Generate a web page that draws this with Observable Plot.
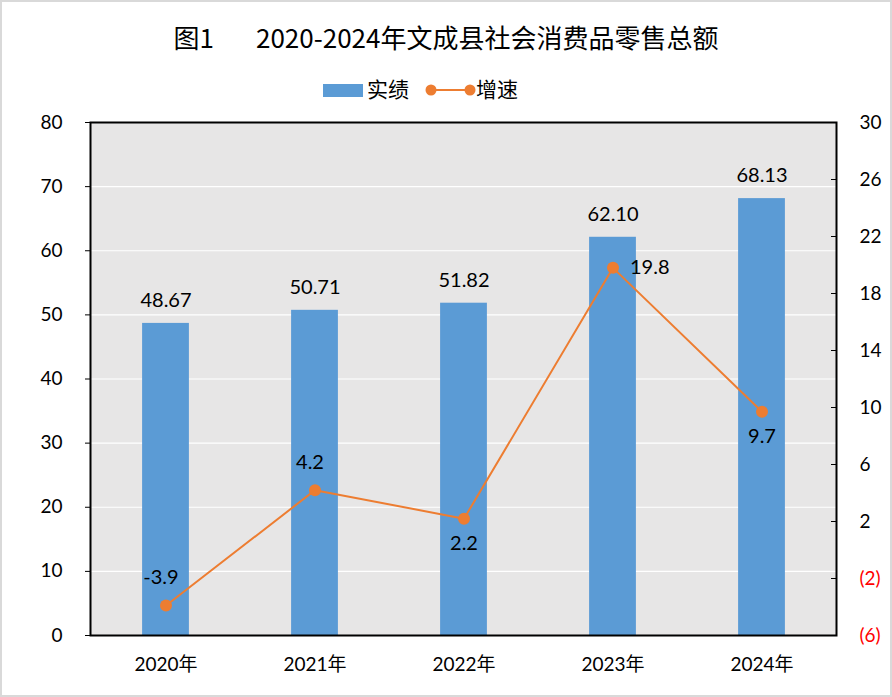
<!DOCTYPE html>
<html>
<head>
<meta charset="utf-8">
<script src="https://cdn.jsdelivr.net/npm/d3@7"></script>
<script src="https://cdn.jsdelivr.net/npm/@observablehq/plot@0.6"></script>
<style>
  html, body { margin: 0; padding: 0; background: #fff; }
  #wrap { position: relative; width: 892px; height: 697px; overflow: hidden; background: #fff; }
  #border { position: absolute; left: 0; top: 0; width: 892px; height: 697px; box-sizing: border-box; border: 2px solid #d9d9d9; pointer-events: none; }
  #title { position: absolute; left: 0; top: 18px; width: 892px; text-align: center; font-family: "Noto Sans CJK SC", sans-serif; font-size: 26px; font-weight: 400; line-height: 38px; color: #000; white-space: pre; }
  .lg { position: absolute; font-family: "Noto Sans CJK SC", sans-serif; font-size: 21px; line-height: 28px; color: #000; }
  #chart { position: absolute; left: 0; top: 100px; }
</style>
</head>
<body>
<div id="wrap">
  <div id="title"></div>
  <svg class="lgsw" style="position:absolute;left:0;top:75px" width="892" height="30">
    <rect x="323" y="9" width="40" height="13" fill="#5b9bd5"></rect>
    <line x1="431" y1="15" x2="470" y2="15" stroke="#ed7d31" stroke-width="2"></line>
    <circle cx="431" cy="15" r="5.5" fill="#ed7d31"></circle>
    <circle cx="470" cy="15" r="5.5" fill="#ed7d31"></circle>
  </svg>
  <div class="lg" id="lg1" style="left:367px;top:74px"></div>
  <div class="lg" id="lg2" style="left:476px;top:74px"></div>
  <div id="chart"></div>
  <div id="border"></div>
</div>
<script>
const titleText = "图1";
const titleMain = "2020-2024年文成县社会消费品零售总额";
const seriesNames = ["实绩", "增速"];
const years = ["2020年", "2021年", "2022年", "2023年", "2024年"];
const sales = [48.67, 50.71, 51.82, 62.10, 68.13];
const growth = [-3.9, 4.2, 2.2, 19.8, 9.7];
const leftTicks = [0, 10, 20, 30, 40, 50, 60, 70, 80];
const rightTicks = [-6, -2, 2, 6, 10, 14, 18, 22, 26, 30];

document.getElementById("title").innerHTML = titleText + '<span style="display:inline-block;width:42px"></span>' + titleMain;
document.getElementById("lg1").textContent = seriesNames[0];
document.getElementById("lg2").textContent = seriesNames[1];

const leftDomain = [0, 80];
const rightDomain = [-6, 30];
const toLeft = g => (g - rightDomain[0]) * (leftDomain[1] - leftDomain[0]) / (rightDomain[1] - rightDomain[0]) + leftDomain[0];
const toRight = v => Math.round((v - leftDomain[0]) * (rightDomain[1] - rightDomain[0]) / (leftDomain[1] - leftDomain[0]) + rightDomain[0]);

const rows = years.map((y, i) => ({year: y, sales: sales[i], growth: growth[i], gl: toLeft(growth[i])}));
// label placement for growth labels
const place = ["top", "top", "bottom", "right", "bottom"];
const above = rows.filter((d, i) => place[i] === "top");
const below = rows.filter((d, i) => place[i] === "bottom");
const right = rows.filter((d, i) => place[i] === "right");

const W = 892, H = 597;
const mL = 90, mR = 56, mT = 22, mB = 62;
const plotW = W - mL - mR;
const bandStep = plotW / years.length;
const barW = 47;
const inset = (bandStep - barW) / 2;

const posRight = rightTicks.filter(t => t >= 0);
const negRight = rightTicks.filter(t => t < 0);
const fmtR = v => { const g = toRight(v); return g < 0 ? "(" + Math.abs(g) + ")" : String(g); };

const chart = Plot.plot({
  width: W,
  height: H,
  marginLeft: mL,
  marginRight: mR,
  marginTop: mT,
  marginBottom: mB,
  style: {fontFamily: "Lato, 'Noto Sans CJK SC', sans-serif", fontSize: "19px", color: "#000", background: "transparent", overflow: "visible"},
  x: {type: "band", domain: years, padding: 0, label: null},
  y: {domain: leftDomain, label: null},
  marks: [
    Plot.frame({fill: "#e7e6e6", stroke: null}),
    Plot.ruleY(leftTicks.filter(t => t > leftDomain[0] && t < leftDomain[1]), {stroke: "#ffffff", strokeWidth: 1.2}),
    Plot.barY(rows, {x: "year", y: "sales", fill: "#5b9bd5", insetLeft: inset, insetRight: inset}),
    Plot.text(rows, {x: "year", y: "sales", text: d => d.sales.toFixed(2), dy: -23, lineAnchor: "middle", fontSize: 20}),
    Plot.line(rows, {x: "year", y: "gl", stroke: "#ed7d31", strokeWidth: 2}),
    Plot.dot(rows, {x: "year", y: "gl", r: 6, fill: "#ed7d31", stroke: null}),
    Plot.text(above, {x: "year", y: "gl", text: d => d.growth.toFixed(1), dy: -28, dx: -5, lineAnchor: "middle", fontSize: 20}),
    Plot.text(below, {x: "year", y: "gl", text: d => d.growth.toFixed(1), dy: 25, lineAnchor: "middle", fontSize: 20}),
    Plot.text(right, {x: "year", y: "gl", text: d => d.growth.toFixed(1), dx: 17, textAnchor: "start", lineAnchor: "middle", fontSize: 20}),
    Plot.axisY({anchor: "left", ticks: leftTicks, tickSize: 5, tickPadding: 23, tickFormat: d => String(d), stroke: "#000", fill: "#000", label: null}),
    Plot.tickY(rightTicks.map(toLeft), {y: d => d, insetLeft: plotW - 5, stroke: "#000", strokeWidth: 1}),
    Plot.axisY(posRight.map(toLeft), {anchor: "right", tickSize: 0, tickPadding: 23, tickFormat: fmtR, fill: "#000", label: null}),
    Plot.axisY(negRight.map(toLeft), {anchor: "right", tickSize: 0, tickPadding: 23, tickFormat: fmtR, fill: "#ff0000", label: null}),
    Plot.axisX({tickSize: 0, tickPadding: 22, fill: "#000", label: null}),
    Plot.frame({stroke: "#000", strokeWidth: 2, fill: null})
  ]
});
document.getElementById("chart").appendChild(chart);
</script>
</body>
</html>
